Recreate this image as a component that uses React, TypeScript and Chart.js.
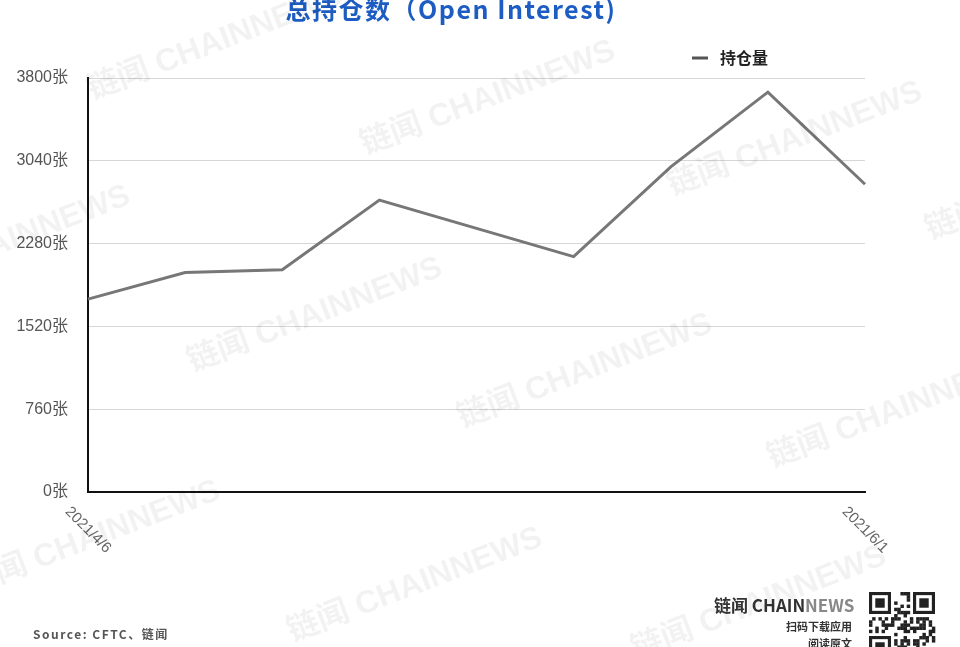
import React, { useEffect, useRef } from "react";
import { Chart, registerables } from "chart.js";

Chart.register(...registerables);

const categories = [
  "2021/4/6", "2021/4/13", "2021/4/20", "2021/4/27", "2021/5/4",
  "2021/5/11", "2021/5/18", "2021/5/25", "2021/6/1",
];
const openInterest = [1770, 2015, 2040, 2680, 2420, 2160, 2985, 3670, 2825];
const yMax = 3800;
const yStep = 760;
const shownXLabels = ["2021/4/6", "2021/6/1"];
const seriesName = "持仓量";
const titleText = "总持仓数（Open Interest)";
const sourceText = "Source: CFTC、链闻";

const CJK = '"Noto Sans CJK SC", "Noto Sans", sans-serif';
const LAT = '"Liberation Sans", "Noto Sans CJK SC", sans-serif';

const watermarkSpots: [number, number][] = [
  [92, 100], [365, 155], [672, 196], [-120, 300], [192, 372], [462, 428],
  [772, 468], [-30, 595], [292, 642], [636, 660], [930, 240],
];

function drawQR(ctx: CanvasRenderingContext2D, x: number, y: number, s: number) {
  const n = 21;
  const m = s / n;
  ctx.save();
  ctx.fillStyle = "#222";
  const pattern = "QRCODEPATTERNCHAINNEWSLINKDOWNLOADAPP";
  for (let r = 0; r < n; r++) {
    for (let c = 0; c < n; c++) {
      const inFinder = (r < 8 && c < 8) || (r < 8 && c >= n - 8) || (r >= n - 8 && c < 8);
      if (inFinder) continue;
      const ch = pattern.charCodeAt((r * 7 + c * 3) % pattern.length);
      if (((ch + r * c) & 3) === 0 || ((ch ^ (r + 2 * c)) & 5) === 1) {
        ctx.fillRect(x + c * m, y + r * m, m + 0.3, m + 0.3);
      }
    }
  }
  const finder = (fx: number, fy: number) => {
    ctx.fillStyle = "#222";
    ctx.fillRect(fx, fy, 7 * m, 7 * m);
    ctx.fillStyle = "#fff";
    ctx.fillRect(fx + m, fy + m, 5 * m, 5 * m);
    ctx.fillStyle = "#222";
    ctx.fillRect(fx + 2 * m, fy + 2 * m, 3 * m, 3 * m);
  };
  finder(x, y);
  finder(x + (n - 7) * m, y);
  finder(x, y + (n - 7) * m);
  ctx.restore();
}

const decorPlugin = {
  id: "decor",
  afterDraw(chart: any) {
    const ctx: CanvasRenderingContext2D = chart.ctx;
    const xScale = chart.scales.x;
    const area = chart.chartArea;
    ctx.save();

    // title
    ctx.fillStyle = "#1d5cc2";
    ctx.font = `bold 25px ${CJK}`;
    ctx.textAlign = "center";
    ctx.textBaseline = "alphabetic";
    (ctx as any).letterSpacing = "1.5px";
    ctx.fillText(titleText, 451, 19);
    (ctx as any).letterSpacing = "0px";

    // legend
    ctx.strokeStyle = "#555";
    ctx.lineWidth = 3;
    ctx.beginPath();
    ctx.moveTo(692, 58);
    ctx.lineTo(708, 58);
    ctx.stroke();
    ctx.fillStyle = "#222";
    ctx.font = `bold 16px ${CJK}`;
    ctx.textAlign = "left";
    ctx.textBaseline = "middle";
    ctx.fillText(seriesName, 720, 58);

    // x labels (rotated clockwise)
    ctx.fillStyle = "#666";
    ctx.font = `15px ${LAT}`;
    ctx.textAlign = "center";
    ctx.textBaseline = "middle";
    categories.forEach((lab, i) => {
      if (!shownXLabels.includes(lab)) return;
      const px = xScale.getPixelForValue(i);
      ctx.save();
      ctx.translate(px, area.bottom + 38);
      ctx.rotate(Math.PI / 4);
      ctx.fillText(lab, 0, 0);
      ctx.restore();
    });

    // source
    ctx.fillStyle = "#555";
    ctx.font = `bold 12px ${CJK}`;
    ctx.textAlign = "left";
    ctx.textBaseline = "middle";
    (ctx as any).letterSpacing = "1.5px";
    ctx.fillText(sourceText, 33, 634);
    (ctx as any).letterSpacing = "0px";

    // brand
    ctx.textBaseline = "middle";
    ctx.font = `bold 17px ${CJK}`;
    ctx.fillStyle = "#333";
    ctx.textAlign = "left";
    const a = "链闻 CHAIN";
    ctx.fillText(a, 714, 606);
    const aw = ctx.measureText(a).width;
    ctx.fillStyle = "#888";
    ctx.fillText("NEWS", 714 + aw, 606);
    ctx.fillStyle = "#333";
    ctx.font = `bold 11px ${CJK}`;
    ctx.textAlign = "right";
    ctx.fillText("扫码下载应用", 852, 627);
    ctx.fillText("阅读原文", 852, 644);

    drawQR(ctx, 869, 592, 66);

    // watermarks
    ctx.fillStyle = "rgba(0,0,0,0.05)";
    ctx.font = `bold 32px ${LAT}`;
    ctx.textAlign = "left";
    ctx.textBaseline = "alphabetic";
    watermarkSpots.forEach(([wx, wy]) => {
      ctx.save();
      ctx.translate(wx, wy);
      ctx.rotate((-21 * Math.PI) / 180);
      ctx.fillText("链闻 CHAINNEWS", 0, 0);
      ctx.restore();
    });

    ctx.restore();
  },
};

export default function App() {
  const ref = useRef<HTMLCanvasElement | null>(null);
  useEffect(() => {
    document.body.style.margin = "0";
    const canvas = ref.current;
    if (!canvas) return;
    const chart = new Chart(canvas, {
      type: "line",
      data: {
        labels: categories,
        datasets: [
          {
            label: seriesName,
            data: openInterest,
            borderColor: "#777",
            backgroundColor: "#777",
            borderWidth: 3,
            pointRadius: 0,
            tension: 0,
            fill: false,
          },
        ],
      },
      options: {
        responsive: false,
        animation: false,
        devicePixelRatio: 1,
        layout: { padding: { top: 78, right: 95, bottom: 155, left: 0 } },
        plugins: {
          legend: { display: false },
          tooltip: { enabled: false },
          title: { display: false },
        },
        scales: {
          x: {
            type: "category",
            offset: false,
            grid: { display: false, drawTicks: false },
            border: { display: true, color: "#111", width: 2 },
            ticks: { display: false },
            afterFit: (s: any) => { s.height = 0; },
          },
          y: {
            min: 0,
            max: yMax,
            ticks: {
              stepSize: yStep,
              padding: 20,
              color: "#555",
              font: { size: 16, family: LAT },
              callback: (v: any) => `${v}张`,
            },
            grid: { color: "#d6d6d6", lineWidth: 1, drawTicks: false },
            border: { display: true, color: "#111", width: 2 },
            afterFit: (s: any) => { s.width = 88; },
          },
        },
      },
      plugins: [decorPlugin],
    });
    return () => chart.destroy();
  }, []);
  return (
    <div style={{ width: 960, height: 647, position: "relative", background: "#fff" }}>
      <canvas ref={ref} width={960} height={647} style={{ display: "block" }} />
    </div>
  );
}
